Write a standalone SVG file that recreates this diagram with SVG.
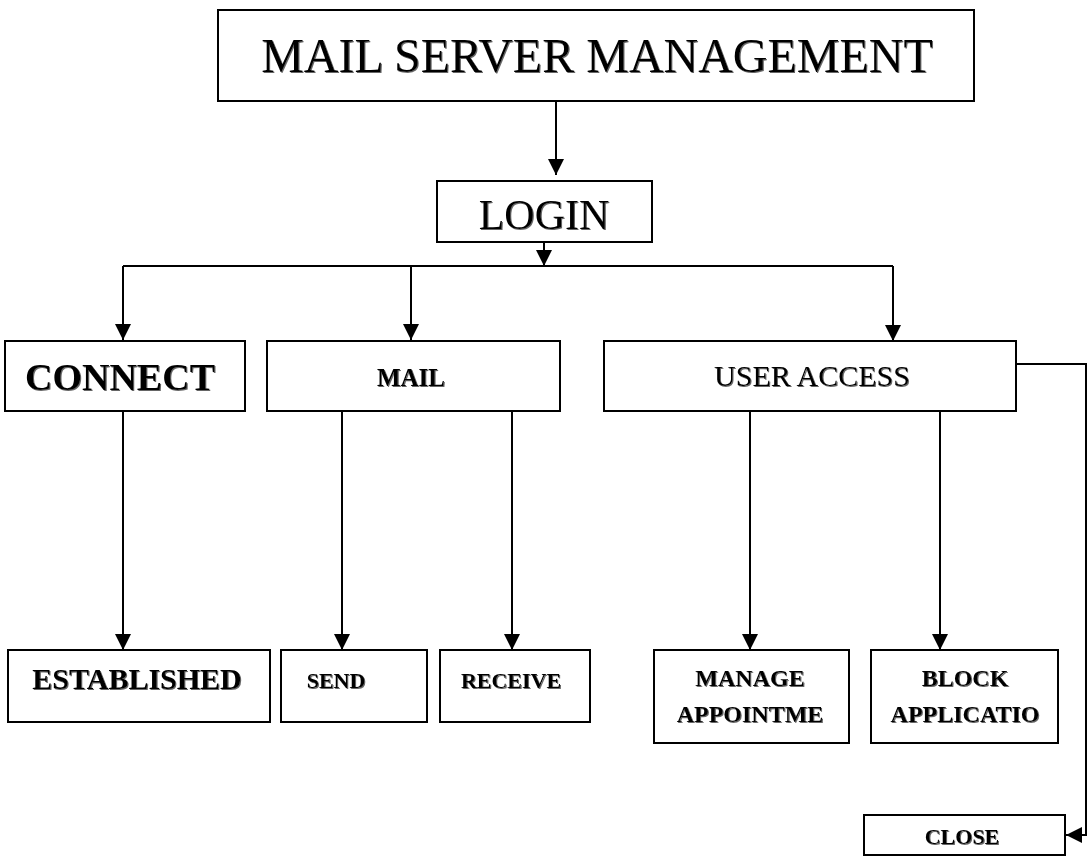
<svg xmlns="http://www.w3.org/2000/svg" width="1090" height="862" viewBox="0 0 1090 862">
  <defs>
    <marker id="arrow" viewBox="0 0 16 16" refX="16" refY="8" markerWidth="16" markerHeight="16" markerUnits="userSpaceOnUse" orient="auto">
      <path d="M0,0 L16,8 L0,16 Z" fill="#000"/>
    </marker>
    <!-- soft offset shade under the lettering -->
    <filter id="shade" x="-5%" y="-20%" width="110%" height="140%">
      <feOffset in="SourceAlpha" dx="1" dy="1" result="off"/>
      <feFlood flood-color="#666"/>
      <feComposite in2="off" operator="in" result="sh"/>
      <feMerge>
        <feMergeNode in="sh"/>
        <feMergeNode in="SourceGraphic"/>
      </feMerge>
    </filter>
  </defs>
  <style>
    .box { fill: #fff; stroke: #000; stroke-width: 2; }
    .lbl { font-family: "Liberation Serif", "Times New Roman", serif; fill: #000; text-anchor: middle; filter: url(#shade); }
    .b { font-weight: bold; }
    .wire { fill: none; stroke: #000; stroke-width: 2; }
  </style>
  <rect width="1090" height="862" fill="#fff"/>

  <!-- connectors -->
  <g id="connectors">
    <path class="wire" d="M556,101 V175" marker-end="url(#arrow)"/>
    <path class="wire" d="M544,242 V266" marker-end="url(#arrow)"/>
    <path class="wire" d="M123,266 H893"/>
    <path class="wire" d="M123,266 V340" marker-end="url(#arrow)"/>
    <path class="wire" d="M411,266 V340" marker-end="url(#arrow)"/>
    <path class="wire" d="M893,266 V341" marker-end="url(#arrow)"/>
    <path class="wire" d="M123,410 V650" marker-end="url(#arrow)"/>
    <path class="wire" d="M342,410 V650" marker-end="url(#arrow)"/>
    <path class="wire" d="M512,410 V650" marker-end="url(#arrow)"/>
    <path class="wire" d="M750,410 V650" marker-end="url(#arrow)"/>
    <path class="wire" d="M940,410 V650" marker-end="url(#arrow)"/>
    <path class="wire" d="M1016,364 H1086 V835 H1066" marker-end="url(#arrow)"/>
  </g>

  <g id="title">
    <rect class="box" x="218" y="10" width="756" height="91"/>
    <text class="lbl" x="597" y="72" font-size="48">MAIL SERVER MANAGEMENT</text>
  </g>
  <g id="login">
    <rect class="box" x="437" y="181" width="215" height="61"/>
    <text class="lbl" x="544" y="229" font-size="42">LOGIN</text>
  </g>
  <g id="connect">
    <rect class="box" x="5" y="341" width="240" height="70"/>
    <text class="lbl b" x="120" y="390" font-size="38">CONNECT</text>
  </g>
  <g id="mail">
    <rect class="box" x="267" y="341" width="293" height="70"/>
    <text class="lbl b" x="411" y="386" font-size="25">MAIL</text>
  </g>
  <g id="user-access">
    <rect class="box" x="604" y="341" width="412" height="70"/>
    <text class="lbl" x="812" y="386" font-size="30">USER ACCESS</text>
  </g>
  <g id="established">
    <rect class="box" x="8" y="650" width="262" height="72"/>
    <text class="lbl b" x="137" y="689" font-size="30">ESTABLISHED</text>
  </g>
  <g id="send">
    <rect class="box" x="281" y="650" width="146" height="72"/>
    <text class="lbl b" x="336" y="688" font-size="22">SEND</text>
  </g>
  <g id="receive">
    <rect class="box" x="440" y="650" width="150" height="72"/>
    <text class="lbl b" x="511" y="688" font-size="22">RECEIVE</text>
  </g>
  <g id="manage">
    <rect class="box" x="654" y="650" width="195" height="93"/>
    <text class="lbl b" x="750" y="686" font-size="24">MANAGE</text>
    <text class="lbl b" x="750" y="722" font-size="24">APPOINTME</text>
  </g>
  <g id="block">
    <rect class="box" x="871" y="650" width="187" height="93"/>
    <text class="lbl b" x="965" y="686" font-size="24">BLOCK</text>
    <text class="lbl b" x="965" y="722" font-size="24">APPLICATIO</text>
  </g>
  <g id="close">
    <rect class="box" x="864" y="815" width="201" height="40"/>
    <text class="lbl b" x="962" y="844" font-size="22">CLOSE</text>
  </g>
</svg>
